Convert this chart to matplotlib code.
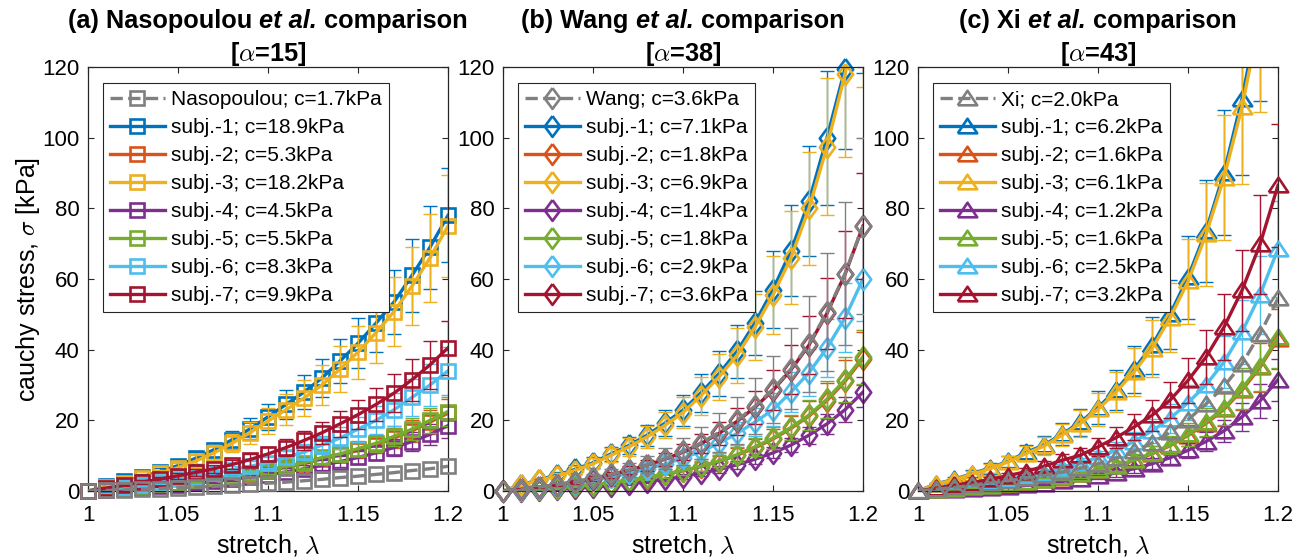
import matplotlib
matplotlib.use('Agg')
import matplotlib.pyplot as plt
from matplotlib.lines import Line2D
import numpy as np

plt.rcParams['font.family'] = ['Liberation Sans', 'DejaVu Sans']
plt.rcParams['mathtext.fontset'] = 'cm'

# stretch values (x axis)
lam = np.array([1.00, 1.01, 1.02, 1.03, 1.04, 1.05, 1.06, 1.07, 1.08, 1.09, 1.10,
                1.11, 1.12, 1.13, 1.14, 1.15, 1.16, 1.17, 1.18, 1.19, 1.20])

xtick_vals   = [1, 1.05, 1.1, 1.15, 1.2]
xtick_labels = ['1', '1.05', '1.1', '1.15', '1.2']
ytick_vals   = [0, 20, 40, 60, 80, 100, 120]

# ---------------- panel (a) : Nasopoulou, alpha = 15 ----------------
a_labels = ['Nasopoulou; c=1.7kPa', 'subj.-1; c=18.9kPa', 'subj.-2; c=5.3kPa',
            'subj.-3; c=18.2kPa', 'subj.-4; c=4.5kPa', 'subj.-5; c=5.5kPa',
            'subj.-6; c=8.3kPa', 'subj.-7; c=9.9kPa']
a_ref = [0, 0.15, 0.3, 0.5, 0.7, 0.9, 1.1, 1.3, 1.6, 1.9, 2.2, 2.5, 2.9, 3.3, 3.8, 4.2, 4.7, 5.2, 5.8, 6.3, 7.0]
a_s1 = [0, 1.3, 2.7, 4.0, 5.5, 7.2, 9.3, 11.7, 14.5, 17.6, 21.0, 24.5, 28.0, 32.0, 36.8, 41.8, 47.5, 53.5, 61.0, 69.0, 78.0]
a_s2 = [0, 0.4, 0.8, 1.3, 1.8, 2.3, 2.9, 3.5, 4.1, 4.8, 5.7, 6.7, 7.7, 9.1, 10.1, 11.5, 13.0, 15.0, 17.0, 19.5, 22.0]
a_s3 = [0, 1.2, 2.4, 3.6, 5.0, 6.6, 8.5, 10.8, 13.5, 16.5, 19.8, 23.0, 26.3, 30.0, 34.5, 39.3, 44.8, 50.8, 58.0, 66.0, 75.0]
a_s4 = [0, 0.3, 0.6, 1.0, 1.4, 1.8, 2.2, 2.7, 3.3, 3.9, 4.6, 5.4, 6.3, 7.3, 8.3, 9.5, 10.8, 12.3, 14.0, 16.0, 18.5]
a_s5 = [0, 0.5, 0.9, 1.4, 1.9, 2.4, 3.0, 3.6, 4.3, 5.0, 6.0, 7.0, 8.0, 9.5, 10.5, 12.0, 13.5, 15.5, 17.5, 20.0, 22.5]
a_s6 = [0, 0.6, 1.2, 1.8, 2.5, 3.3, 4.0, 5.0, 6.0, 7.0, 8.0, 9.5, 11.0, 13.0, 15.0, 17.5, 20.0, 23.0, 26.5, 30.0, 34.0]
a_s7 = [0, 0.8, 1.6, 2.5, 3.4, 4.3, 5.3, 6.3, 7.5, 8.9, 10.5, 12.3, 14.3, 16.5, 19.0, 21.6, 24.5, 27.7, 31.5, 35.7, 40.5]
a_e1 = [0, 0.2, 0.5, 0.7, 0.9, 1.2, 1.6, 2.0, 2.5, 3.0, 3.6, 4.2, 4.8, 5.4, 6.3, 7.1, 8.1, 9.1, 10.4, 11.7, 13.3]
a_e2 = [0, 0.1, 0.1, 0.2, 0.3, 0.4, 0.5, 0.6, 0.7, 0.9, 1.0, 1.2, 1.4, 1.6, 1.8, 2.1, 2.3, 2.7, 3.1, 3.5, 4.0]
a_e3 = [0, 0.2, 0.5, 0.7, 1.0, 1.3, 1.6, 2.1, 2.6, 3.1, 3.8, 4.4, 5.0, 5.7, 6.6, 7.5, 8.5, 9.7, 11.0, 12.5, 14.3]
a_e4 = [0, 0.1, 0.1, 0.2, 0.3, 0.3, 0.4, 0.5, 0.6, 0.7, 0.9, 1.0, 1.2, 1.4, 1.6, 1.8, 2.1, 2.3, 2.7, 3.0, 3.5]
a_e5 = [0, 0.1, 0.2, 0.3, 0.3, 0.4, 0.5, 0.6, 0.8, 0.9, 1.1, 1.3, 1.4, 1.7, 1.9, 2.2, 2.4, 2.8, 3.2, 3.6, 4.1]
a_e6 = [0, 0.1, 0.2, 0.4, 0.5, 0.7, 0.8, 1.0, 1.2, 1.4, 1.6, 1.9, 2.2, 2.6, 3.0, 3.5, 4.0, 4.6, 5.3, 6.0, 6.8]
a_e7 = [0, 0.2, 0.3, 0.5, 0.6, 0.8, 1.0, 1.2, 1.4, 1.7, 2.0, 2.3, 2.7, 3.1, 3.6, 4.1, 4.7, 5.3, 6.0, 6.8, 7.7]

# ---------------- panel (b) : Wang, alpha = 38 ----------------
b_labels = ['Wang; c=3.6kPa', 'subj.-1; c=7.1kPa', 'subj.-2; c=1.8kPa',
            'subj.-3; c=6.9kPa', 'subj.-4; c=1.4kPa', 'subj.-5; c=1.8kPa',
            'subj.-6; c=2.9kPa', 'subj.-7; c=3.6kPa']
b_ref = [0, 0.5, 1.1, 1.8, 2.6, 3.6, 4.7, 6.0, 7.4, 9.1, 11.2, 13.6, 16.6, 20.0, 24.0, 28.8, 34.6, 41.6, 50.6, 61.5, 75.0]
b_s1 = [0, 1.7, 3.2, 4.5, 6.1, 8.0, 10.5, 12.9, 15.8, 19.2, 22.9, 27.8, 33.2, 39.5, 47.6, 57.0, 68.0, 82.0, 100.0, 119.5, 146.0]
b_s2 = [0, 0.2, 0.5, 0.8, 1.2, 1.7, 2.3, 3.0, 3.8, 4.7, 5.7, 6.9, 8.3, 10.1, 12.2, 14.7, 17.7, 21.2, 25.6, 31.0, 37.5]
b_s3 = [0, 1.6, 3.0, 4.2, 5.8, 7.7, 10.1, 12.5, 15.3, 18.6, 22.2, 27.0, 32.3, 38.4, 46.4, 55.5, 66.0, 80.0, 97.5, 118.0, 143.0]
b_s4 = [0, 0.1, 0.3, 0.5, 0.8, 1.1, 1.5, 2.0, 2.6, 3.3, 4.1, 5.0, 6.1, 7.4, 9.0, 10.8, 13.0, 15.8, 19.0, 23.0, 28.0]
b_s5 = [0, 0.2, 0.5, 0.9, 1.3, 1.8, 2.4, 3.1, 3.9, 4.8, 5.8, 7.0, 8.5, 10.3, 12.5, 15.0, 18.0, 21.5, 26.0, 31.5, 38.0]
b_s6 = [0, 0.4, 0.9, 1.5, 2.2, 3.0, 3.9, 5.0, 6.2, 7.6, 9.3, 11.2, 13.5, 16.3, 19.5, 23.0, 28.0, 33.5, 40.5, 49.0, 60.0]
b_s7 = [0, 0.5, 1.1, 1.8, 2.6, 3.5, 4.6, 5.9, 7.3, 9.0, 11.0, 13.4, 16.3, 19.7, 23.7, 28.5, 34.3, 41.3, 50.3, 61.3, 75.0]
b_eref = [0, 0.2, 0.4, 0.6, 0.9, 1.2, 1.6, 2.0, 2.4, 3.0, 3.7, 4.5, 5.5, 6.6, 7.9, 9.5, 11.4, 13.7, 16.7, 20.3, 24.8]
b_e1 = [0, 0.3, 0.6, 0.9, 1.2, 1.5, 2.0, 2.5, 3.0, 3.6, 4.4, 5.3, 6.3, 7.5, 9.0, 10.8, 12.9, 15.6, 19.0, 22.7, 27.7]
b_e2 = [0, 0.0, 0.1, 0.2, 0.2, 0.3, 0.5, 0.6, 0.8, 0.9, 1.1, 1.4, 1.7, 2.0, 2.4, 2.9, 3.5, 4.2, 5.1, 6.2, 7.5]
b_e3 = [0, 0.3, 0.6, 0.8, 1.2, 1.5, 2.0, 2.5, 3.1, 3.7, 4.4, 5.4, 6.5, 7.7, 9.3, 11.1, 13.2, 16.0, 19.5, 23.6, 28.6]
b_e4 = [0, 0.0, 0.0, 0.1, 0.1, 0.2, 0.2, 0.3, 0.4, 0.5, 0.6, 0.8, 0.9, 1.1, 1.4, 1.6, 2.0, 2.4, 2.9, 3.5, 4.2]
b_e5 = [0, 0.0, 0.1, 0.2, 0.3, 0.4, 0.5, 0.6, 0.8, 1.0, 1.2, 1.4, 1.7, 2.1, 2.5, 3.0, 3.6, 4.3, 5.2, 6.3, 7.6]
b_e6 = [0, 0.1, 0.2, 0.3, 0.4, 0.6, 0.8, 1.0, 1.2, 1.5, 1.9, 2.2, 2.7, 3.3, 3.9, 4.6, 5.6, 6.7, 8.1, 9.8, 12.0]
b_e7 = [0, 0.1, 0.2, 0.4, 0.5, 0.7, 0.9, 1.2, 1.5, 1.8, 2.2, 2.7, 3.3, 3.9, 4.7, 5.7, 6.9, 8.3, 10.1, 12.3, 15.0]

# ---------------- panel (c) : Xi, alpha = 43 ----------------
c_labels = ['Xi; c=2.0kPa', 'subj.-1; c=6.2kPa', 'subj.-2; c=1.6kPa',
            'subj.-3; c=6.1kPa', 'subj.-4; c=1.2kPa', 'subj.-5; c=1.6kPa',
            'subj.-6; c=2.5kPa', 'subj.-7; c=3.2kPa']
c_ref = [0, 0.5, 1.0, 1.6, 2.2, 2.9, 3.6, 4.4, 5.3, 6.4, 7.7, 9.3, 11.2, 13.6, 16.6, 20.2, 24.6, 29.6, 36.0, 44.5, 54.5]
c_s1 = [0, 2.0, 3.3, 4.9, 6.5, 8.4, 10.9, 13.0, 16.1, 19.4, 23.6, 28.6, 34.4, 41.2, 50.0, 60.5, 73.6, 90.1, 111.0, 137.0, 170.0]
c_s2 = [0, 0.3, 0.6, 0.9, 1.3, 1.8, 2.4, 3.0, 3.8, 4.7, 5.8, 7.0, 8.6, 10.5, 12.8, 15.7, 19.1, 23.1, 28.5, 35.0, 43.0]
c_s3 = [0, 1.9, 3.2, 4.7, 6.3, 8.2, 10.6, 12.7, 15.8, 19.0, 23.1, 28.0, 33.7, 40.3, 49.0, 59.3, 72.6, 88.7, 108.7, 134.0, 165.0]
c_s4 = [0, 0.15, 0.3, 0.6, 0.9, 1.2, 1.6, 2.1, 2.7, 3.4, 4.2, 5.1, 6.3, 7.7, 9.4, 11.5, 14.0, 17.0, 21.0, 25.5, 31.5]
c_s5 = [0, 0.3, 0.6, 1.0, 1.4, 1.9, 2.5, 3.1, 3.9, 4.8, 5.9, 7.2, 8.8, 10.7, 13.0, 16.0, 19.5, 23.5, 29.0, 35.5, 43.5]
c_s6 = [0, 0.6, 1.2, 1.8, 2.5, 3.3, 4.2, 5.2, 6.4, 7.8, 9.5, 11.5, 14.0, 17.0, 20.5, 25.0, 30.0, 36.5, 45.0, 55.5, 68.5]
c_s7 = [0, 0.8, 1.6, 2.4, 3.3, 4.3, 5.5, 7.0, 8.7, 10.1, 12.5, 15.1, 18.1, 21.4, 25.7, 31.3, 37.9, 46.4, 56.8, 69.8, 86.5]
c_e1 = [0, 0.4, 0.6, 1.0, 1.3, 1.6, 2.1, 2.5, 3.1, 3.8, 4.6, 5.6, 6.7, 8.0, 9.8, 11.8, 14.4, 17.6, 21.6, 26.7, 33.2]
c_e2 = [0, 0.1, 0.1, 0.2, 0.3, 0.4, 0.5, 0.6, 0.8, 0.9, 1.2, 1.4, 1.7, 2.1, 2.6, 3.1, 3.8, 4.6, 5.7, 7.0, 8.6]
c_e3 = [0, 0.4, 0.6, 0.9, 1.3, 1.6, 2.1, 2.5, 3.2, 3.8, 4.6, 5.6, 6.7, 8.1, 9.8, 11.9, 14.5, 17.7, 21.7, 26.8, 33.0]
c_e4 = [0, 0.0, 0.1, 0.1, 0.2, 0.2, 0.3, 0.4, 0.5, 0.6, 0.8, 1.0, 1.2, 1.5, 1.8, 2.2, 2.7, 3.2, 4.0, 4.8, 6.0]
c_e5 = [0, 0.1, 0.1, 0.2, 0.3, 0.4, 0.5, 0.6, 0.8, 1.0, 1.2, 1.4, 1.8, 2.1, 2.6, 3.2, 3.9, 4.7, 5.8, 7.1, 8.7]
c_e6 = [0, 0.1, 0.2, 0.4, 0.5, 0.7, 0.8, 1.0, 1.3, 1.6, 1.9, 2.3, 2.8, 3.4, 4.1, 5.0, 6.0, 7.3, 9.0, 11.1, 13.7]
c_e7 = [0, 0.2, 0.3, 0.5, 0.7, 0.9, 1.1, 1.4, 1.7, 2.0, 2.5, 3.0, 3.6, 4.3, 5.1, 6.3, 7.6, 9.3, 11.4, 14.0, 17.4]

# matlab default colours, reference curve in grey
ref_color  = '#808080'
subj_colors = ['#0072BD', '#D95319', '#EDB120', '#7E2F8E', '#77AC30', '#4DBEEE', '#A2142F']
axis_color = '#262626'

diamond  = [(0, 1), (0.74, 0), (0, -1), (-0.74, 0), (0, 1)]
triangle = [(-1, -0.7), (1, -0.7), (0, 0.8), (-1, -0.7)]

title_fs  = 18.3
tick_fs   = 16
label_fs  = 18
legend_fs = 15

fig = plt.figure(figsize=(13.09, 5.6), dpi=100)
W, H = 1309, 560


def plot_series(ax, y, err, color, marker, ms, ls, z):
    y = np.array(y, dtype=float)
    ax.plot(lam, y, color=color, lw=2.4, ls=ls, zorder=z)
    if err is not None:
        ax.errorbar(lam[1:], y[1:], yerr=np.array(err)[1:], fmt='none', ecolor=color,
                    elinewidth=1.0, capsize=5, capthick=1.0, zorder=z)
    inside = y <= 120
    ax.plot(lam[inside], y[inside], ls='none', marker=marker, ms=ms, mew=1.9,
            mfc='none', mec=color, clip_on=False, zorder=z + 0.05)
    return Line2D([], [], color=color, lw=2.4, ls=ls, marker=marker, ms=ms,
                  mew=1.9, mfc='none', mec=color)


def add_title(ax, name, alpha_val):
    renderer = fig.canvas.get_renderer()
    box = ax.get_position()
    xc = (box.x0 + box.x1) / 2
    parts = [(name, 'normal'), ('et al.', 'italic'), ('comparison', 'normal')]
    texts = [fig.text(0, 0.95, s, fontsize=title_fs, fontweight='bold', style=st,
                      ha='left', va='baseline') for s, st in parts]
    widths = [t.get_window_extent(renderer).width / W for t in texts]
    gap = 0.278 * title_fs * fig.dpi / 72 / W
    x = xc - (sum(widths) + 2 * gap) / 2
    for t, w in zip(texts, widths):
        t.set_x(x)
        x += w + gap
    fig.text(xc, 0.891, r'[$\alpha$=' + alpha_val + ']', fontsize=title_fs,
             fontweight='bold', ha='center', va='baseline')


panels = [
    (88, a_labels, a_ref, None, [a_s1, a_s2, a_s3, a_s4, a_s5, a_s6, a_s7],
     [a_e1, a_e2, a_e3, a_e4, a_e5, a_e6, a_e7], 's', 9.5, '(a) Nasopoulou', '15'),
    (503, b_labels, b_ref, b_eref, [b_s1, b_s2, b_s3, b_s4, b_s5, b_s6, b_s7],
     [b_e1, b_e2, b_e3, b_e4, b_e5, b_e6, b_e7], diamond, 15, '(b) Wang', '38'),
    (918, c_labels, c_ref, None, [c_s1, c_s2, c_s3, c_s4, c_s5, c_s6, c_s7],
     [c_e1, c_e2, c_e3, c_e4, c_e5, c_e6, c_e7], triangle, 14, '(c) Xi', '43'),
]

for left, labels, ref, ref_err, subjects, errors, marker, ms, name, alpha_val in panels:
    ax = fig.add_axes([left / W, 1 - 491 / H, 360 / W, 424 / H])

    handles = []
    for i, (ys, es) in enumerate(zip(subjects, errors)):
        handles.append(plot_series(ax, ys, es, subj_colors[i], marker, ms, '-', 2 + i * 0.1))
    ref_handle = plot_series(ax, ref, ref_err, ref_color, marker, ms, '--', 3)
    handles = [ref_handle] + handles

    ax.set_xlim(1, 1.2)
    ax.set_ylim(0, 120)
    ax.set_xticks(xtick_vals)
    ax.set_xticklabels(xtick_labels)
    ax.set_yticks(ytick_vals)
    ax.tick_params(direction='in', top=True, right=True, length=4, width=0.8,
                   labelsize=tick_fs, colors=axis_color, labelcolor='black')
    ax.tick_params(axis='x', pad=10)
    ax.tick_params(axis='y', pad=6)
    for sp in ax.spines.values():
        sp.set_color(axis_color)
        sp.set_linewidth(0.9)

    leg = ax.legend(handles, labels, loc='upper left', bbox_to_anchor=(0.042, 0.962),
                    borderaxespad=0, fontsize=legend_fs, handlelength=2.6,
                    handletextpad=0.3, labelspacing=0.43, borderpad=0.35,
                    fancybox=False, framealpha=1, edgecolor=axis_color)
    leg.get_frame().set_linewidth(0.8)
    leg.set_zorder(10)

    add_title(ax, name, alpha_val)
    fig.text((left + 180) / W, 1 - 545 / H, r'stretch, $\lambda$', fontsize=label_fs,
             ha='center', va='center')

fig.text(28 / W, 1 - 279 / H, r'cauchy stress, $\sigma$ [kPa]', fontsize=label_fs,
         rotation=90, ha='center', va='center')

fig.savefig('out.png', dpi=100)
